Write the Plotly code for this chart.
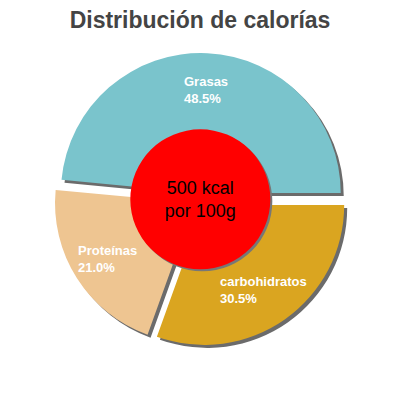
import math
import plotly.graph_objects as go

labels = ["carbohidratos", "Proteínas", "Grasas"]
values = [30.5, 21.0, 48.5]
colors = ["#daa520", "#eec591", "#7ac4cc"]
kcal = 500
center_text = f"{kcal} kcal<br>por 100g"
title = "Distribución de calorías"

W = 400
off = 8  # the page body margin shifts the figure by 8px
# pie geometry in pixels (page coordinates)
cx, cy, half = 200.5 - off, 199.6 - off, 146.5
rc, rr = (200.3 - off, 199.3 - off), 70
sh = 3
r_lab = 110


def dom(x, y, h):
    return dict(x=[(x - h) / W, (x + h) / W], y=[1 - (y + h) / W, 1 - (y - h) / W])


pull = 0.047
common = dict(labels=labels, values=values, sort=False, direction="clockwise",
              rotation=90, pull=[pull] * 3, hole=0.44, hoverinfo="skip", textinfo="none")

fig = go.Figure()
fig.add_trace(go.Pie(**common, domain=dom(cx + sh, cy + sh, half),
                     marker=dict(colors=["#6b6b6b"] * 3, line=dict(width=0))))
fig.add_trace(go.Pie(**common, domain=dom(cx, cy, half),
                     marker=dict(colors=colors, line=dict(width=0))))
fig.add_trace(go.Pie(values=[1], sort=False, domain=dom(rc[0] + 2, rc[1] + 2, rr),
                     marker=dict(colors=["#777777"], line=dict(width=0)),
                     textinfo="none", hoverinfo="skip"))
fig.add_trace(go.Pie(values=[1], sort=False, domain=dom(rc[0], rc[1], rr),
                     marker=dict(colors=["#ff0000"], line=dict(width=0)),
                     text=[center_text], textinfo="text", textposition="inside",
                     textfont=dict(family="Liberation Sans", size=18, color="black"),
                     hoverinfo="skip"))

# slice labels on each slice's bisector
total = sum(values)
acc = 0
for lab, v in zip(labels, values):
    mid = -(acc + v / 2) / total * 2 * math.pi
    acc += v
    fig.add_annotation(
        x=(cx + r_lab * math.cos(mid)) / W, y=1 - (cy - r_lab * math.sin(mid)) / W,
        xref="paper", yref="paper", xanchor="center", yanchor="middle",
        text=f"<b>{lab}<br>{v:.1f}%</b>", align="left", showarrow=False,
        font=dict(family="Liberation Sans", size=13, color="white"))

fig.update_layout(
    width=400, height=400,
    margin=dict(l=0, r=0, t=0, b=0),
    showlegend=False,
    paper_bgcolor="white",
    title=dict(text="<b>" + title + "</b>", x=(200 - off) / W, xanchor="center",
               yref="container", y=1 - 12 / 400, yanchor="middle",
               font=dict(family="Liberation Sans", size=23, color="#444444")),
)

fig.write_html("out.html")
